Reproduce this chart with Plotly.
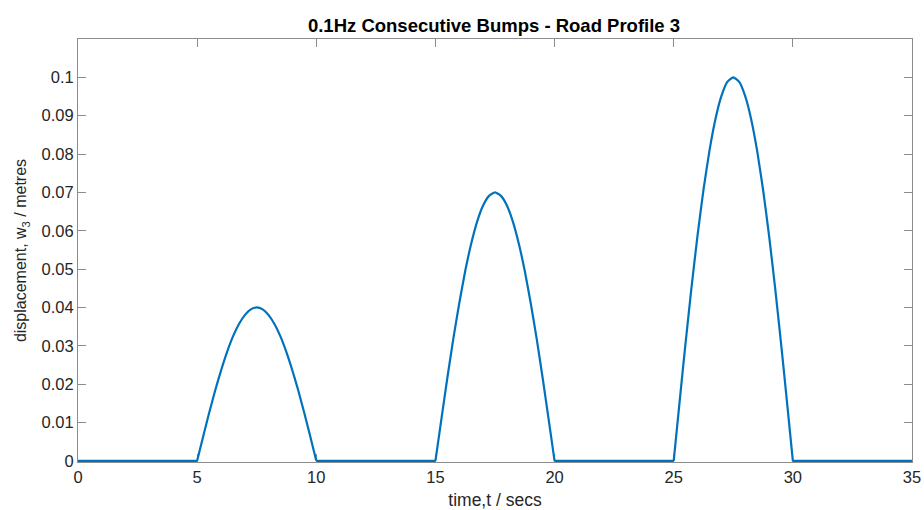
import plotly.graph_objects as go

# time samples (s) for each bump
t_bump1 = [5.0, 5.25, 5.5, 5.75, 6.0, 6.25, 6.5, 6.75, 7.0, 7.25, 7.5, 7.75, 8.0, 8.25, 8.5, 8.75, 9.0, 9.25, 9.5, 9.75, 10.0]
t_bump2 = [15.0, 15.25, 15.5, 15.75, 16.0, 16.25, 16.5, 16.75, 17.0, 17.25, 17.5, 17.75, 18.0, 18.25, 18.5, 18.75, 19.0, 19.25, 19.5, 19.75, 20.0]
t_bump3 = [25.0, 25.25, 25.5, 25.75, 26.0, 26.25, 26.5, 26.75, 27.0, 27.25, 27.5, 27.75, 28.0, 28.25, 28.5, 28.75, 29.0, 29.25, 29.5, 29.75, 30.0]
# displacement (m)
bump1 = [0, 0.0063, 0.0124, 0.0182, 0.0235, 0.0283, 0.0324, 0.0356, 0.0380, 0.0395, 0.0400,
         0.0395, 0.0380, 0.0356, 0.0324, 0.0283, 0.0235, 0.0182, 0.0124, 0.0063, 0]
bump2 = [0, 0.0109, 0.0216, 0.0318, 0.0411, 0.0495, 0.0566, 0.0624, 0.0666, 0.0691, 0.0700,
         0.0691, 0.0666, 0.0624, 0.0566, 0.0495, 0.0411, 0.0318, 0.0216, 0.0109, 0]
bump3 = [0, 0.0156, 0.0309, 0.0454, 0.0588, 0.0707, 0.0809, 0.0891, 0.0951, 0.0988, 0.1000,
         0.0988, 0.0951, 0.0891, 0.0809, 0.0707, 0.0588, 0.0454, 0.0309, 0.0156, 0]
# flat (zero) stretches of the road
t_flat = [0, 5, None, 10, 15, None, 20, 25, None, 30, 35]
flat = [0, 0, None, 0, 0, None, 0, 0, None, 0, 0]

x_ticks = [0, 5, 10, 15, 20, 25, 30, 35]
y_ticks = [0, 0.01, 0.02, 0.03, 0.04, 0.05, 0.06, 0.07, 0.08, 0.09, 0.1]
y_tick_text = ["0", "0.01", "0.02", "0.03", "0.04", "0.05", "0.06", "0.07", "0.08", "0.09", "0.1"]

FONT = "Liberation Sans, Arial, Helvetica, sans-serif"
AX = "#8c8c8c"
TXT = "#262626"
LINE = dict(color="#0072BD", width=2.2)

fig = go.Figure()
fig.add_trace(go.Scatter(x=t_flat, y=flat, mode="lines", line=LINE, hoverinfo="skip"))
for tb, yb in [(t_bump1, bump1), (t_bump2, bump2), (t_bump3, bump3)]:
    fig.add_trace(go.Scatter(x=tb, y=yb, mode="lines",
                             line=dict(**LINE, shape="spline", smoothing=0.5),
                             hoverinfo="skip"))

fig.update_layout(
    width=924, height=510,
    margin=dict(l=78, r=12, t=39, b=48),
    paper_bgcolor="white", plot_bgcolor="white",
    showlegend=False,
    font=dict(family=FONT, color=TXT, size=16),
    title=dict(text="<b>0.1Hz Consecutive Bumps - Road Profile 3</b>",
               x=494 / 924, xanchor="center", xref="container",
               y=1 - 26 / 510, yanchor="middle", yref="container",
               font=dict(size=18.5, color="#000000")),
)
fig.update_xaxes(range=[0, 35], tickvals=x_ticks, ticks="inside", ticklen=8, tickcolor=AX,
                 showline=True, linecolor=AX, linewidth=1, mirror="allticks",
                 showgrid=False, zeroline=False, automargin=False, layer="below traces",
                 tickfont=dict(size=16.5, color=TXT),
                 title=dict(text="time,t / secs", font=dict(size=17.5, color=TXT), standoff=8))
fig.update_yaxes(range=[-0.0003, 0.11], tickvals=y_ticks, ticktext=y_tick_text, ticks="inside", ticklen=8, tickcolor=AX,
                 showline=True, linecolor=AX, linewidth=1, mirror="allticks",
                 showgrid=False, zeroline=False, automargin=False, layer="below traces",
                 tickfont=dict(size=16.5, color=TXT),
                 title=dict(text="displacement, w<sub>3</sub> / metres", font=dict(size=16, color=TXT), standoff=10))

fig.write_html("out.html")
